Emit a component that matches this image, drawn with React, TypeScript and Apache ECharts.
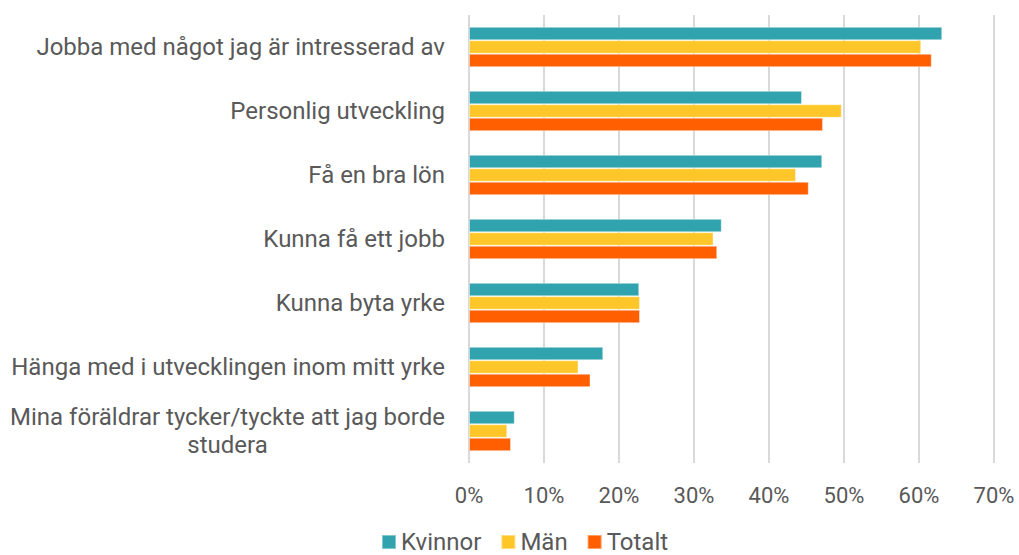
import React, { useEffect, useRef } from "react";
import * as echarts from "echarts";

const categories = [
  "Jobba med något jag är intresserad av",
  "Personlig utveckling",
  "Få en bra lön",
  "Kunna få ett jobb",
  "Kunna byta yrke",
  "Hänga med i utvecklingen inom mitt yrke",
  "Mina föräldrar tycker/tyckte att jag borde\nstudera",
];
const kvinnor = [63.1, 44.4, 47.1, 33.7, 22.7, 17.9, 6.1];
const man = [60.3, 49.7, 43.6, 32.6, 22.8, 14.6, 5.1];
const totalt = [61.7, 47.2, 45.3, 33.1, 22.8, 16.2, 5.6];
const seriesNames = ["Kvinnor", "Män", "Totalt"];
const colors = ["#31A3AF", "#FFC629", "#FF5F00"];

const FONT = "Roboto";
const FS = 24;
const FSX = 22;
const TEXT = "#595959";

export default function App() {
  const ref = useRef<HTMLDivElement>(null);
  useEffect(() => {
    document.body.style.margin = "0";
    if (!ref.current) return;
    const chart = echarts.init(ref.current, undefined, { renderer: "svg" });
    const cv = document.createElement("canvas").getContext("2d")!;
    cv.font = `${FS}px ${FONT}`;
    const wrapW = (s: string) =>
      Math.ceil(Math.max(...s.split("\n").map((l) => cv.measureText(l).width)));
    chart.setOption({
      animation: false,
      textStyle: { fontFamily: FONT },
      grid: { left: 469, right: 25, top: 15, bottom: 92, containLabel: false },
      legend: {
        top: 530,
        left: 381,
        padding: 0,
        itemWidth: 14,
        itemHeight: 14,
        itemGap: 19,
        icon: "rect",
        textStyle: { fontFamily: FONT, fontSize: FS, color: TEXT, lineHeight: 24, padding: [0, 0, 0, 0] },
        data: seriesNames,
      },
      xAxis: {
        type: "value",
        min: 0,
        max: 70,
        interval: 10,
        axisLine: { show: false },
        axisTick: { show: false },
        splitLine: { lineStyle: { color: "#D9D9D9", width: 2 } },
        axisLabel: {
          fontFamily: FONT,
          fontSize: FSX,
          color: TEXT,
          margin: 21,
          formatter: (v: number) => `${v}%`,
        },
      },
      yAxis: {
        type: "category",
        inverse: true,
        data: categories,
        axisLine: { show: false },
        axisTick: { show: false },
        axisLabel: {
          fontFamily: FONT,
          fontSize: FS,
          color: TEXT,
          margin: 24,
          lineHeight: 28,
          formatter: (v: string) =>
            v.includes("\n") ? `{c|${v.split("\n").join("}\n{c|")}}` : v,
          rich: {
            c: {
              fontFamily: FONT,
              fontSize: FS,
              color: TEXT,
              lineHeight: 28,
              align: "center",
              width: wrapW(categories[6]),
            },
          },
        },
      },
      series: [kvinnor, man, totalt].map((d, i) => ({
        name: seriesNames[i],
        type: "bar",
        data: d,
        barGap: "0%",
        barCategoryGap: "37%",
        itemStyle: { color: colors[i], borderColor: "rgba(255,255,255,0.4)", borderWidth: 1 },
      })),
    });
    return () => chart.dispose();
  }, []);
  return <div ref={ref} style={{ width: 1019, height: 555 }} />;
}
